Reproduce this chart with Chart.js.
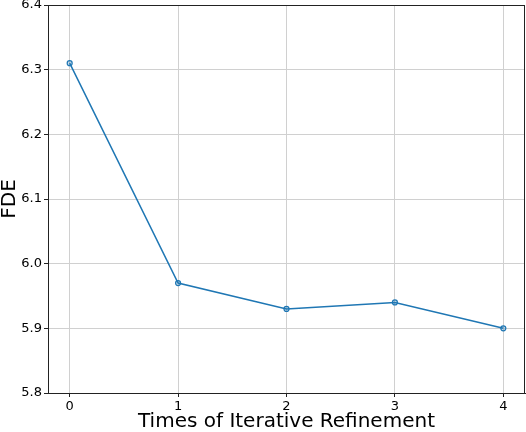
<!DOCTYPE html>
<html>
<head>
<meta charset="utf-8">
<script src="https://cdn.jsdelivr.net/npm/chart.js@4/dist/chart.umd.min.js"></script>
<style>
  html, body { margin: 0; padding: 0; background: #fff; }
  #wrap { width: 526px; height: 432px; }
</style>
</head>
<body>
<div id="wrap"><canvas id="chart" width="526" height="432"></canvas></div>
<script>
const refinementTimes = [0, 1, 2, 3, 4];
const fdeValues = [6.31, 5.97, 5.93, 5.94, 5.90];
const xTickValues = [0, 1, 2, 3, 4];
const yTickValues = [5.8, 5.9, 6.0, 6.1, 6.2, 6.3, 6.4];

const FONT = "'DejaVu Sans', sans-serif";

const frameBox = {
  id: 'frameBox',
  afterDraw(chart) {
    const { ctx, chartArea } = chart;
    ctx.save();
    ctx.strokeStyle = '#222';
    ctx.lineWidth = 1;
    ctx.strokeRect(chartArea.left + 0.5, chartArea.top + 0.5,
      chartArea.right - chartArea.left - 1, chartArea.bottom - chartArea.top);
    ctx.restore();
  },
};

new Chart(document.getElementById('chart'), {
  type: 'line',
  data: {
    datasets: [
      {
        data: refinementTimes.map((t, i) => ({ x: t, y: fdeValues[i] })),
        borderColor: '#1f77b4',
        borderWidth: 1.5,
        backgroundColor: 'rgba(31,119,180,0.25)',
        pointBorderColor: '#1f77b4',
        pointBackgroundColor: 'rgba(31,119,180,0.25)',
        pointRadius: 2.5,
        pointBorderWidth: 1.2,
        tension: 0,
      },
    ],
  },
  options: {
    responsive: false,
    animation: false,
    layout: { autoPadding: false, padding: { top: 5, right: 1, left: 0, bottom: 0 } },
    plugins: { legend: { display: false }, tooltip: { enabled: false } },
    scales: {
      x: {
        type: 'linear',
        min: -0.2,
        max: 4.2,
        afterBuildTicks(scale) {
          scale.ticks = xTickValues.map((v) => ({ value: v }));
        },
        afterFit(scale) {
          scale.height = 39;
          scale.paddingLeft = 0;
          scale.paddingRight = 0;
        },
        grid: { color: '#d0d0d0', tickLength: 4, tickColor: '#222' },
        border: { color: '#222' },
        ticks: { color: '#000', font: { family: FONT, size: 13 }, padding: 2, maxRotation: 0 },
        title: {
          display: true,
          text: 'Times of Iterative Refinement',
          color: '#000',
          font: { family: FONT, size: 20, lineHeight: 1 },
          padding: { top: 0, bottom: 0 },
        },
      },
      y: {
        min: 5.8,
        max: 6.4,
        afterBuildTicks(scale) {
          scale.ticks = yTickValues.map((v) => ({ value: v }));
        },
        afterFit(scale) {
          scale.width = 48;
          scale.paddingTop = 0;
          scale.paddingBottom = 0;
        },
        grid: { color: '#d0d0d0', tickLength: 4, tickColor: '#222' },
        border: { color: '#222' },
        ticks: {
          color: '#000',
          font: { family: FONT, size: 13 },
          padding: 2,
          callback: (v) => Number(v).toFixed(1),
        },
        title: {
          display: true,
          text: 'FDE',
          color: '#000',
          font: { family: FONT, size: 20, lineHeight: 1 },
          padding: { top: 0, bottom: 0 },
        },
      },
    },
  },
  plugins: [frameBox],
});
</script>
</body>
</html>
